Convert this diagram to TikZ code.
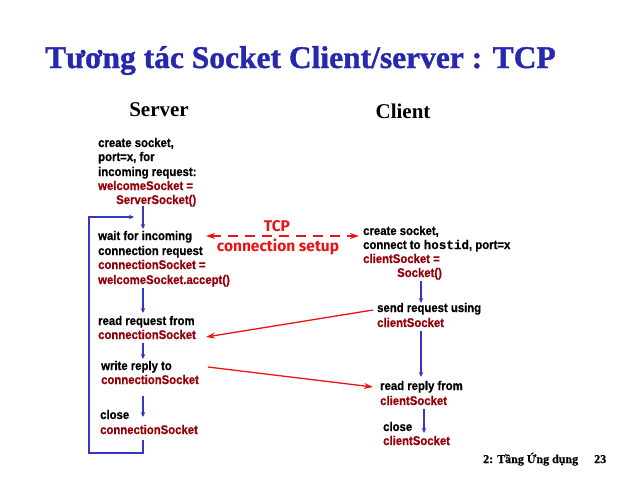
\documentclass[tikz,border=0pt]{standalone}
\usepackage{fontspec}
\setmainfont{Liberation Serif}
\newfontfamily\titlefont[FakeBold=1.2]{Liberation Serif Bold}
\newfontfamily\footfont[FakeBold=0.5]{Liberation Serif Bold}
\newfontfamily\bodyfont[FakeStretch=0.9,FakeBold=0.6]{Liberation Sans Bold}
\newfontfamily\codefont[FakeBold=0.6]{Liberation Mono Bold}
\newfontfamily\tcpfont{Fira Sans}
\usetikzlibrary{arrows.meta}
\definecolor{titleblue}{RGB}{40,40,175}
\definecolor{codered}{RGB}{150,0,10}
\definecolor{flowblue}{RGB}{55,55,195}
\definecolor{msgred}{RGB}{235,20,20}
\begin{document}
\begin{tikzpicture}[x=1pt,y=-1pt,
  txt/.style={anchor=base west,inner sep=0pt,font=\bodyfont\fontsize{12.6}{14}\selectfont,text=black},
  code/.style={txt,text=codered},
  head/.style={anchor=base,inner sep=0pt,font=\bfseries\fontsize{21}{24}\selectfont},
  flow/.style={draw=flowblue,line width=1.4pt,-{Stealth[length=5pt,width=4.5pt]}},
  msg/.style={draw=msgred,line width=1.3pt,-{Stealth[length=9pt,width=6pt]}},
  tcp/.style={anchor=base,inner sep=0pt,text=msgred,font=\tcpfont\bfseries\fontsize{15.5}{18}\selectfont}]
\useasboundingbox (0,0) rectangle (640,480);
\fill[white] (0,0) rectangle (640,480);

% title and column headings
\node[anchor=base west,inner sep=0pt,text=titleblue,font=\titlefont\fontsize{31.5}{36}\selectfont] (title) at (45,68) {Tương tác Socket Client/server : TCP};
\node[head] (srv) at (159,116) {Server};
\node[head] (cli) at (403,118) {Client};

% server side
\node[txt] (s1) at (98,147) {create socket,};
\node[txt] (s2) at (98,161) {port=x, for};
\node[txt] (s3) at (98,176) {incoming request:};
\node[code] (s4) at (98,190) {welcomeSocket =};
\node[code] (s5) at (116,204) {ServerSocket()};

\node[txt] (w1) at (98,240) {wait for incoming};
\node[txt] (w2) at (98,255) {connection request};
\node[code] (w3) at (98,269) {connectionSocket =};
\node[code] (w4) at (98,284) {welcomeSocket.accept()};

\node[txt] (r1) at (98,325) {read request from};
\node[code] (r2) at (98,339) {connectionSocket};

\node[txt] (p1) at (101,370) {write reply to};
\node[code] (p2) at (101,384) {connectionSocket};

\node[txt] (c1) at (100,419) {close};
\node[code] (c2) at (100,434) {connectionSocket};

% client side
\node[txt] (k1) at (363,235) {create socket,};
\node[txt] (k2) at (363,249) {connect to {\codefont hostid}, port=x};
\node[code] (k3) at (363,263) {clientSocket =};
\node[code] (k4) at (397,277) {Socket()};

\node[txt] (q1) at (377,312) {send request using};
\node[code] (q2) at (377,327) {clientSocket};

\node[txt] (y1) at (380,390) {read reply from};
\node[code] (y2) at (380,405) {clientSocket};

\node[txt] (z1) at (383,431) {close};
\node[code] (z2) at (383,445) {clientSocket};

% connection setup label
\node[tcp] (tcpA) at (277,231) {TCP};
\node[tcp] (tcpB) at (278,251) {connection setup};

% footer
\node[anchor=base west,inner sep=0pt,font=\footfont\fontsize{12}{14}\selectfont] (foot) at (483,463) {2: Tầng Ứng dụng};
\node[anchor=base west,inner sep=0pt,font=\footfont\fontsize{12}{14}\selectfont] (page) at (594,463) {23};

% arrow end points
\coordinate (sA) at (143,206);  \coordinate (sB) at (143,229);
\coordinate (sC) at (143,288);  \coordinate (sD) at (143,313);
\coordinate (sE) at (143,343);  \coordinate (sF) at (143,359);
\coordinate (sG) at (143,396);  \coordinate (sH) at (143,417);
\coordinate (sI) at (143,440);
\coordinate (lpA) at (143,453); \coordinate (lpB) at (89,453);
\coordinate (lpC) at (89,217);  \coordinate (lpD) at (134,217);
\coordinate (cA) at (421,281);  \coordinate (cB) at (421,303);
\coordinate (cC) at (421,331);  \coordinate (cD) at (421,377);
\coordinate (cE) at (424,409);  \coordinate (cF) at (424,433);
\coordinate (tL) at (206,236);  \coordinate (tR) at (359,236);
\coordinate (mA) at (373,310);  \coordinate (mB) at (206,337);
\coordinate (mC) at (208,367);  \coordinate (mD) at (373,387);

% server flow
\draw[flow] (sA) -- (sB);
\draw[flow] (sC) -- (sD);
\draw[flow] (sE) -- (sF);
\draw[flow] (sG) -- (sH);
\draw[flow] (sI) -- (lpA) -- (lpB) -- (lpC) -- (lpD);

% client flow
\draw[flow] (cA) -- (cB);
\draw[flow] (cC) -- (cD);
\draw[flow] (cE) -- (cF);

% messages
\draw[msg,{Stealth[length=9pt,width=6pt]}-{Stealth[length=9pt,width=6pt]},dash pattern=on 10pt off 7pt] (tL) -- (tR);
\draw[msg] (mA) -- (mB);
\draw[msg] (mC) -- (mD);
\end{tikzpicture}
\end{document}
